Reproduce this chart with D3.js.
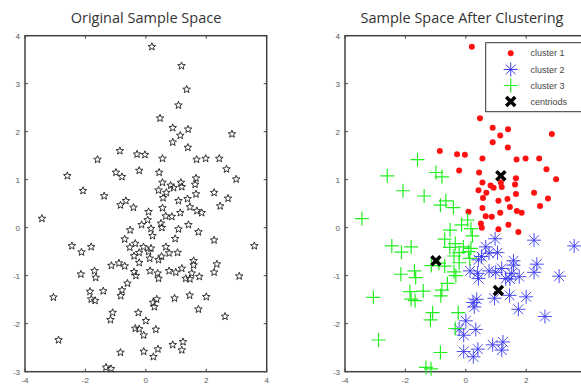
<!DOCTYPE html>
<html><head><meta charset="utf-8">
<script src="https://cdn.jsdelivr.net/npm/d3@7/dist/d3.min.js"></script>
<style>body{margin:0;background:#fff;overflow:hidden}svg{display:block}</style>
</head><body>
<svg id="c" width="581" height="387"></svg>
<script>
const titles = ["Original Sample Space", "Sample Space After Clustering"];
const xTicks = [-4, -2, 0, 2, 4];
const yTicks = [-3, -2, -1, 0, 1, 2, 3, 4];
const legendLabels = ["cluster 1", "cluster 2", "cluster 3", "centriods"];

const cluster1X = [0.2,1.18,1.35,1.08,0.47,0.89,1.40,1.14,2.85,0.89,1.39,-0.86,-0.29,-0.03,0.55,1.68,1.98,2.43,2.67,-0.22,0.44,1.66,2.99,0.55,1.16,1.63,0.82,0.92,1.19,0.42,0.68,2.26,1.66,0.57,2.72,1.08,1.38,2.46,1.46,0.55,0.09,1.69,1.85,1.14,0.66,0.86,0.50,1.41,0.53,1.08,1.74];
const cluster1Y = [3.77,3.37,2.88,2.55,2.28,2.08,2.05,1.92,1.95,1.78,1.67,1.60,1.53,1.52,1.44,1.42,1.44,1.44,1.22,1.19,1.15,1.03,1.01,0.94,0.94,0.90,0.88,0.83,0.85,0.78,0.73,0.73,0.70,0.62,0.61,0.56,0.60,0.45,0.43,0.41,0.33,0.35,0.31,0.31,0.24,0.23,0.09,0.06,0.0,-0.03,-0.09];
const cluster2X = [0.97,2.26,3.59,0.66,0.52,0.77,1.05,0.42,1.58,1.58,2.35,1.19,0.14,0.39,0.42,0.77,0.99,1.52,1.32,1.46,1.77,2.26,3.09,0.36,0.24,0.28,0.95,1.45,2.0,1.74,2.62,0.0,-0.22,0.33,-0.07,-0.07,0.40,0.25,0.89,1.23,1.19];
const cluster2Y = [-0.23,-0.26,-0.38,-0.40,-0.60,-0.53,-0.52,-0.67,-0.69,-0.78,-0.76,-0.85,-0.90,-0.95,-1.06,-0.90,-0.93,-0.95,-1.06,-1.07,-1.02,-0.93,-1.01,-1.49,-1.56,-1.65,-1.47,-1.41,-1.44,-1.70,-1.85,-1.94,-2.11,-2.12,-2.24,-2.58,-2.53,-2.69,-2.44,-2.38,-2.55];
const cluster3X = [-1.60,-0.99,-0.79,-2.60,-2.08,-1.38,-0.66,-0.84,-0.41,-3.44,0.06,-0.14,0.17,-0.52,0.22,-0.70,-2.45,-1.81,-0.35,-2.13,-0.53,-0.08,0.17,-0.39,-0.22,0.09,0.13,-0.22,-1.14,-0.89,-0.70,-2.15,-1.70,-1.66,-0.39,-0.33,-0.61,-1.85,-1.41,-0.79,-0.83,-3.06,-1.81,-1.68,-1.10,-1.17,-0.25,-0.35,-2.89,-0.84,-1.32,-1.15];
const cluster3Y = [1.42,1.15,1.06,1.08,0.77,0.66,0.56,0.47,0.42,0.19,0.16,0.06,-0.02,-0.05,-0.17,-0.24,-0.38,-0.40,-0.33,-0.51,-0.41,-0.40,-0.43,-0.59,-0.52,-0.50,-0.64,-0.73,-0.79,-0.74,-0.80,-0.97,-0.90,-1.04,-0.92,-1.0,-1.16,-1.33,-1.32,-1.30,-1.42,-1.45,-1.49,-1.52,-1.77,-1.92,-1.77,-2.10,-2.34,-2.60,-2.91,-2.94];
const centroidX = [1.16, 1.08, -0.99];
const centroidY = [1.08, -1.31, -0.69];

const W = 581;
const svg = d3.select("#c");
const yScale = d3.scaleLinear().domain([-3, 4]).range([371.7, 35.7]);
const panels = [
  {x: d3.scaleLinear().domain([-4, 4]).range([25, 266.7]), title: titles[0], tx: 146},
  {x: d3.scaleLinear().domain([-4, 4]).range([345, 586.6]), title: titles[1], tx: 462}
];

const pts = (xs, ys) => xs.map((v, i) => ({x: v, y: ys[i]}));
const c1 = pts(cluster1X, cluster1Y), c2 = pts(cluster2X, cluster2Y), c3 = pts(cluster3X, cluster3Y);
const cents = pts(centroidX, centroidY);
const all = c1.concat(c2, c3);

function starPath(R, r) {
  let p = [];
  for (let k = 0; k < 10; k++) {
    const a = -Math.PI / 2 + k * Math.PI / 5;
    const rr = k % 2 ? r : R;
    p.push([rr * Math.cos(a), rr * Math.sin(a)]);
  }
  return "M" + p.map(q => q[0].toFixed(2) + "," + q[1].toFixed(2)).join("L") + "Z";
}
const pentagram = starPath(4, 1.7);
const asterisk = (s) => `M${-s},0L${s},0M0,${-s}L0,${s}M${-s*0.7},${-s*0.7}L${s*0.7},${s*0.7}M${-s*0.7},${s*0.7}L${s*0.7},${-s*0.7}`;
const plus = (s) => `M${-s},0L${s},0M0,${-s}L0,${s}`;
const cross = (s) => `M${-s},${-s}L${s},${s}M${-s},${s}L${s},${-s}`;

panels.forEach((p, idx) => {
  const g = svg.append("g");
  const [x0, x1] = p.x.range();
  const [yb, yt] = yScale.range();
  svg.append("text").attr("x", p.tx).attr("y", 23).attr("text-anchor", "middle")
    .attr("font-family", "Open Sans, sans-serif").attr("font-size", 14.5).attr("fill", "#333").text(p.title);
  const tk = g.append("g").attr("stroke", "#444").attr("stroke-width", 1);
  xTicks.forEach(t => {
    tk.append("line").attr("x1", p.x(t)).attr("x2", p.x(t)).attr("y1", yb).attr("y2", yb - 3);
    tk.append("line").attr("x1", p.x(t)).attr("x2", p.x(t)).attr("y1", yt).attr("y2", yt + 3);
  });
  yTicks.forEach(t => {
    tk.append("line").attr("x1", x0).attr("x2", x0 + 3).attr("y1", yScale(t)).attr("y2", yScale(t));
    tk.append("line").attr("x1", x1).attr("x2", x1 - 3).attr("y1", yScale(t)).attr("y2", yScale(t));
  });
  g.append("rect").attr("x", x0).attr("y", yt).attr("width", x1 - x0).attr("height", yb - yt)
    .attr("fill", "none").attr("stroke", "#444").attr("stroke-width", 1.5);
  const lab = g.append("g").attr("font-family", "Liberation Sans, Arial, sans-serif").attr("font-size", 8).attr("fill", "#555");
  xTicks.filter(t => p.x(t) + 4 < W).forEach(t => lab.append("text").attr("x", p.x(t)).attr("y", yb + 11).attr("text-anchor", "middle").text(t));
  yTicks.forEach(t => lab.append("text").attr("x", x0 - 5).attr("y", yScale(t) + 3).attr("text-anchor", "end").text(t));

  if (idx === 0) {
    g.append("g").selectAll("path").data(all).join("path")
      .attr("d", pentagram).attr("transform", d => `translate(${p.x(d.x)},${yScale(d.y)})`)
      .attr("fill", "none").attr("stroke", "#333").attr("stroke-width", 1);
  } else {
    g.append("g").selectAll("circle").data(c1).join("circle")
      .attr("cx", d => p.x(d.x)).attr("cy", d => yScale(d.y)).attr("r", 3).attr("fill", "#f11");
    g.append("g").selectAll("path").data(c2).join("path")
      .attr("d", asterisk(7)).attr("transform", d => `translate(${p.x(d.x)},${yScale(d.y)})`)
      .attr("fill", "none").attr("stroke", "#3a3af0").attr("stroke-width", 1).attr("stroke-opacity", 0.9);
    g.append("g").selectAll("path").data(c3).join("path")
      .attr("d", plus(7)).attr("transform", d => `translate(${p.x(d.x)},${yScale(d.y)})`)
      .attr("fill", "none").attr("stroke", "#22ee22").attr("stroke-width", 1.2);
    g.append("g").selectAll("path").data(cents).join("path")
      .attr("d", cross(4.5)).attr("transform", d => `translate(${p.x(d.x)},${yScale(d.y)})`)
      .attr("fill", "none").attr("stroke", "#000").attr("stroke-width", 3.5);
    const lg = g.append("g");
    lg.append("rect").attr("x", 485.7).attr("y", 42.7).attr("width", 110).attr("height", 69)
      .attr("fill", "#fff").attr("stroke", "#333").attr("stroke-width", 1);
    const rows = [53.3, 69.5, 85.5, 101.5];
    const mx = 510.7;
    lg.append("circle").attr("cx", mx).attr("cy", rows[0]).attr("r", 3).attr("fill", "#f11");
    lg.append("path").attr("d", asterisk(7)).attr("transform", `translate(${mx},${rows[1]})`).attr("fill", "none").attr("stroke", "#3a3af0").attr("stroke-width", 1);
    lg.append("path").attr("d", plus(7)).attr("transform", `translate(${mx},${rows[2]})`).attr("fill", "none").attr("stroke", "#22ee22").attr("stroke-width", 1.2);
    lg.append("path").attr("d", cross(4.5)).attr("transform", `translate(${mx},${rows[3]})`).attr("fill", "none").attr("stroke", "#000").attr("stroke-width", 3.5);
    legendLabels.forEach((l, i) => lg.append("text").attr("x", 530.5).attr("y", rows[i] + 3)
      .attr("font-family", "Liberation Sans, Arial, sans-serif").attr("font-size", 9).attr("fill", "#444").text(l));
  }
});
</script>
</body></html>
